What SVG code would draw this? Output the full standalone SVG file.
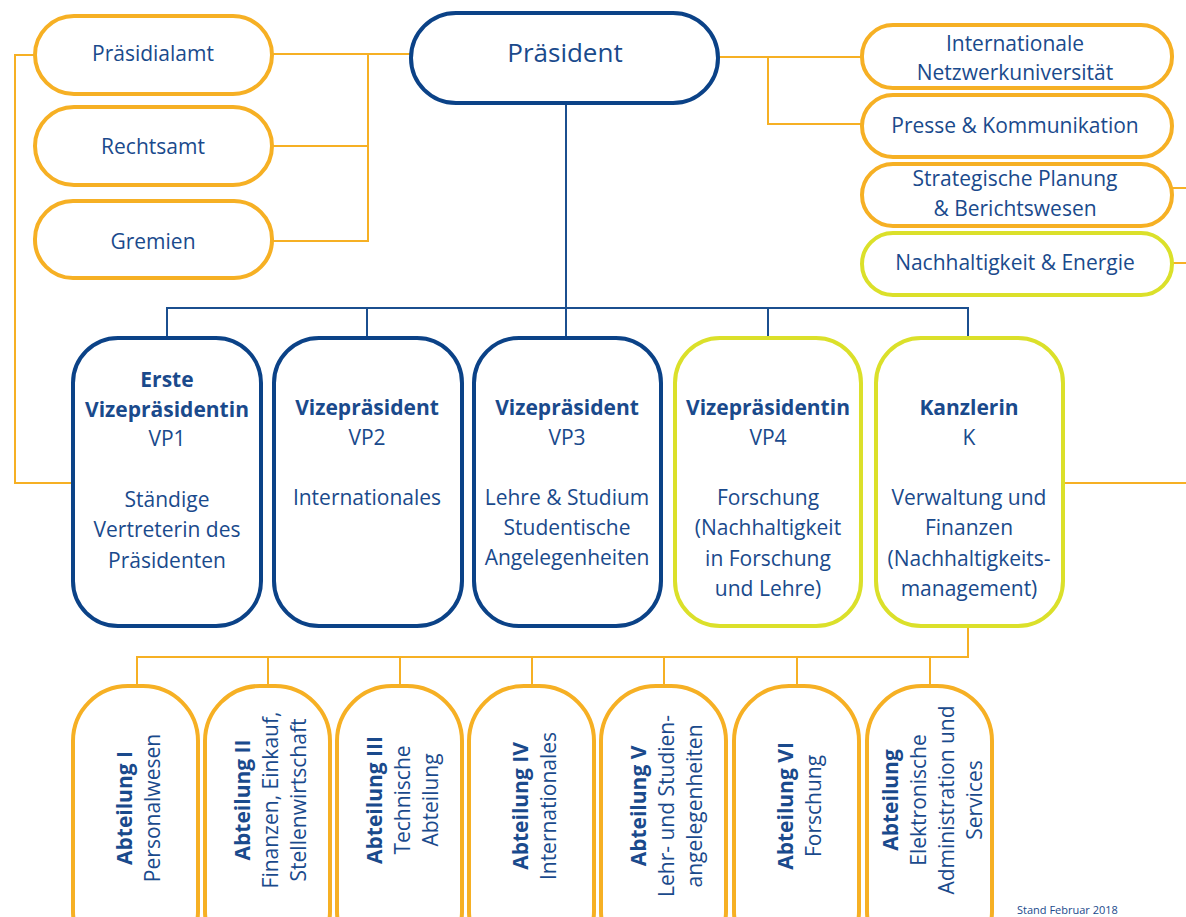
<svg xmlns="http://www.w3.org/2000/svg" width="1186" height="917" viewBox="0 0 1186 917">
<style>
text{font-family:"Open Sans","Noto Sans","Liberation Sans",sans-serif;fill:#1a4a8c;text-anchor:middle;font-size:21px}
.b{font-weight:bold}
.blue{fill:#fff;stroke:#0b4287;stroke-width:4}
.org{fill:#fff;stroke:#f6b024;stroke-width:4}
.grn{fill:#fff;stroke:#dbe02a;stroke-width:4}
.co{fill:none;stroke:#f6b024;stroke-width:2}
.cb{fill:none;stroke:#1b4f8f;stroke-width:2}
</style>
<g id="connectors">
<path class="co" d="M411,54 H272 M368,54 V241 H272 M368,146 H272"/>
<path class="co" d="M35,55 H15 V483 H73"/>
<path class="co" d="M718,57 H862 M768,57 V124 H862"/>
<path class="co" d="M1172,188 H1186 M1172,263 H1186 M1063,483 H1186"/>
<path class="co" d="M968,626 V657 H137 V686 M268,657 V686 M400,657 V686 M532,657 V686 M664,657 V686 M797,657 V686 M930,657 V686"/>
<path class="cb" d="M566,103 V308 M167,338 V308 H968 V338 M367,308 V338 M566,308 V338 M768,308 V338"/>
</g>
<g id="praesident"><rect class="blue" x="411" y="13" width="307" height="90" rx="45"/><text x="565" y="62" style="font-size:26px">Präsident</text></g>
<g id="praesidialamt"><rect class="org" x="35" y="16" width="237" height="78" rx="39"/><text x="153" y="61">Präsidialamt</text></g>
<g id="rechtsamt"><rect class="org" x="35" y="107" width="237" height="78" rx="39"/><text x="153" y="154">Rechtsamt</text></g>
<g id="gremien"><rect class="org" x="35" y="201" width="237" height="77" rx="38"/><text x="153" y="249">Gremien</text></g>
<g id="netzwerk"><rect class="org" x="862" y="25" width="310" height="63" rx="31"/><text x="1015" y="51">Internationale</text><text x="1015" y="80">Netzwerkuniversität</text></g>
<g id="presse"><rect class="org" x="862" y="95" width="310" height="62" rx="31"/><text x="1015" y="133">Presse &amp; Kommunikation</text></g>
<g id="strategie"><rect class="org" x="862" y="164" width="310" height="62" rx="31"/><text x="1015" y="186">Strategische Planung</text><text x="1015" y="216">&amp; Berichtswesen</text></g>
<g id="nachhaltigkeit"><rect class="grn" x="862" y="233" width="310" height="62" rx="31"/><text x="1015" y="270">Nachhaltigkeit &amp; Energie</text></g>
<g id="vp1"><rect class="blue" x="73" y="338" width="188" height="288" rx="45"/>
<text x="167" y="387" class="b">Erste</text><text x="167" y="417" class="b">Vizepräsidentin</text><text x="167" y="446">VP1</text>
<text x="167" y="507">Ständige</text><text x="167" y="537">Vertreterin des</text><text x="167" y="568">Präsidenten</text></g>
<g id="vp2"><rect class="blue" x="274" y="338" width="188" height="288" rx="45"/>
<text x="367" y="415" class="b">Vizepräsident</text><text x="367" y="445">VP2</text><text x="367" y="505">Internationales</text></g>
<g id="vp3"><rect class="blue" x="474" y="338" width="187" height="288" rx="45"/>
<text x="567" y="415" class="b">Vizepräsident</text><text x="567" y="445">VP3</text><text x="567" y="505">Lehre &amp; Studium</text><text x="567" y="535">Studentische</text><text x="567" y="565">Angelegenheiten</text></g>
<g id="vp4"><rect class="grn" x="675" y="338" width="186" height="288" rx="45"/>
<text x="768" y="415" class="b">Vizepräsidentin</text><text x="768" y="445">VP4</text><text x="768" y="505">Forschung</text><text x="768" y="535">(Nachhaltigkeit</text><text x="768" y="566">in Forschung</text><text x="768" y="596">und Lehre)</text></g>
<g id="kanzlerin"><rect class="grn" x="876" y="338" width="187" height="288" rx="45"/>
<text x="969" y="415" class="b">Kanzlerin</text><text x="969" y="445">K</text><text x="969" y="505">Verwaltung und</text><text x="969" y="535">Finanzen</text><text x="969" y="566">(Nachhaltigkeits-</text><text x="969" y="596">management)</text></g>
<g id="abt1"><rect class="org" x="73" y="686" width="125" height="280" rx="55"/>
<g transform="translate(136,808) rotate(-90)"><text x="0" y="-4" class="b">Abteilung I</text><text x="0" y="24">Personalwesen</text></g></g>
<g id="abt2"><rect class="org" x="205" y="686" width="125" height="280" rx="55"/>
<g transform="translate(268,800) rotate(-90)"><text x="0" y="-18" class="b">Abteilung II</text><text x="0" y="10">Finanzen, Einkauf,</text><text x="0" y="38">Stellenwirtschaft</text></g></g>
<g id="abt3"><rect class="org" x="337" y="686" width="125" height="280" rx="55"/>
<g transform="translate(400,800) rotate(-90)"><text x="0" y="-18" class="b">Abteilung III</text><text x="0" y="10">Technische</text><text x="0" y="38">Abteilung</text></g></g>
<g id="abt4"><rect class="org" x="469" y="686" width="125" height="280" rx="55"/>
<g transform="translate(532,806) rotate(-90)"><text x="0" y="-4" class="b">Abteilung IV</text><text x="0" y="24">Internationales</text></g></g>
<g id="abt5"><rect class="org" x="601" y="686" width="125" height="280" rx="55"/>
<g transform="translate(664,806) rotate(-90)"><text x="0" y="-18" class="b">Abteilung V</text><text x="0" y="10">Lehr- und Studien-</text><text x="0" y="38">angelegenheiten</text></g></g>
<g id="abt6"><rect class="org" x="734" y="686" width="125" height="280" rx="55"/>
<g transform="translate(797,806) rotate(-90)"><text x="0" y="-4" class="b">Abteilung VI</text><text x="0" y="24">Forschung</text></g></g>
<g id="abt7"><rect class="org" x="867" y="686" width="125" height="280" rx="55"/>
<g transform="translate(930,800) rotate(-90)"><text x="0" y="-32" class="b">Abteilung</text><text x="0" y="-4">Elektronische</text><text x="0" y="24">Administration und</text><text x="0" y="52">Services</text></g></g>
<text x="1017" y="914" style="font-size:11px;text-anchor:start">Stand Februar 2018</text>
</svg>
